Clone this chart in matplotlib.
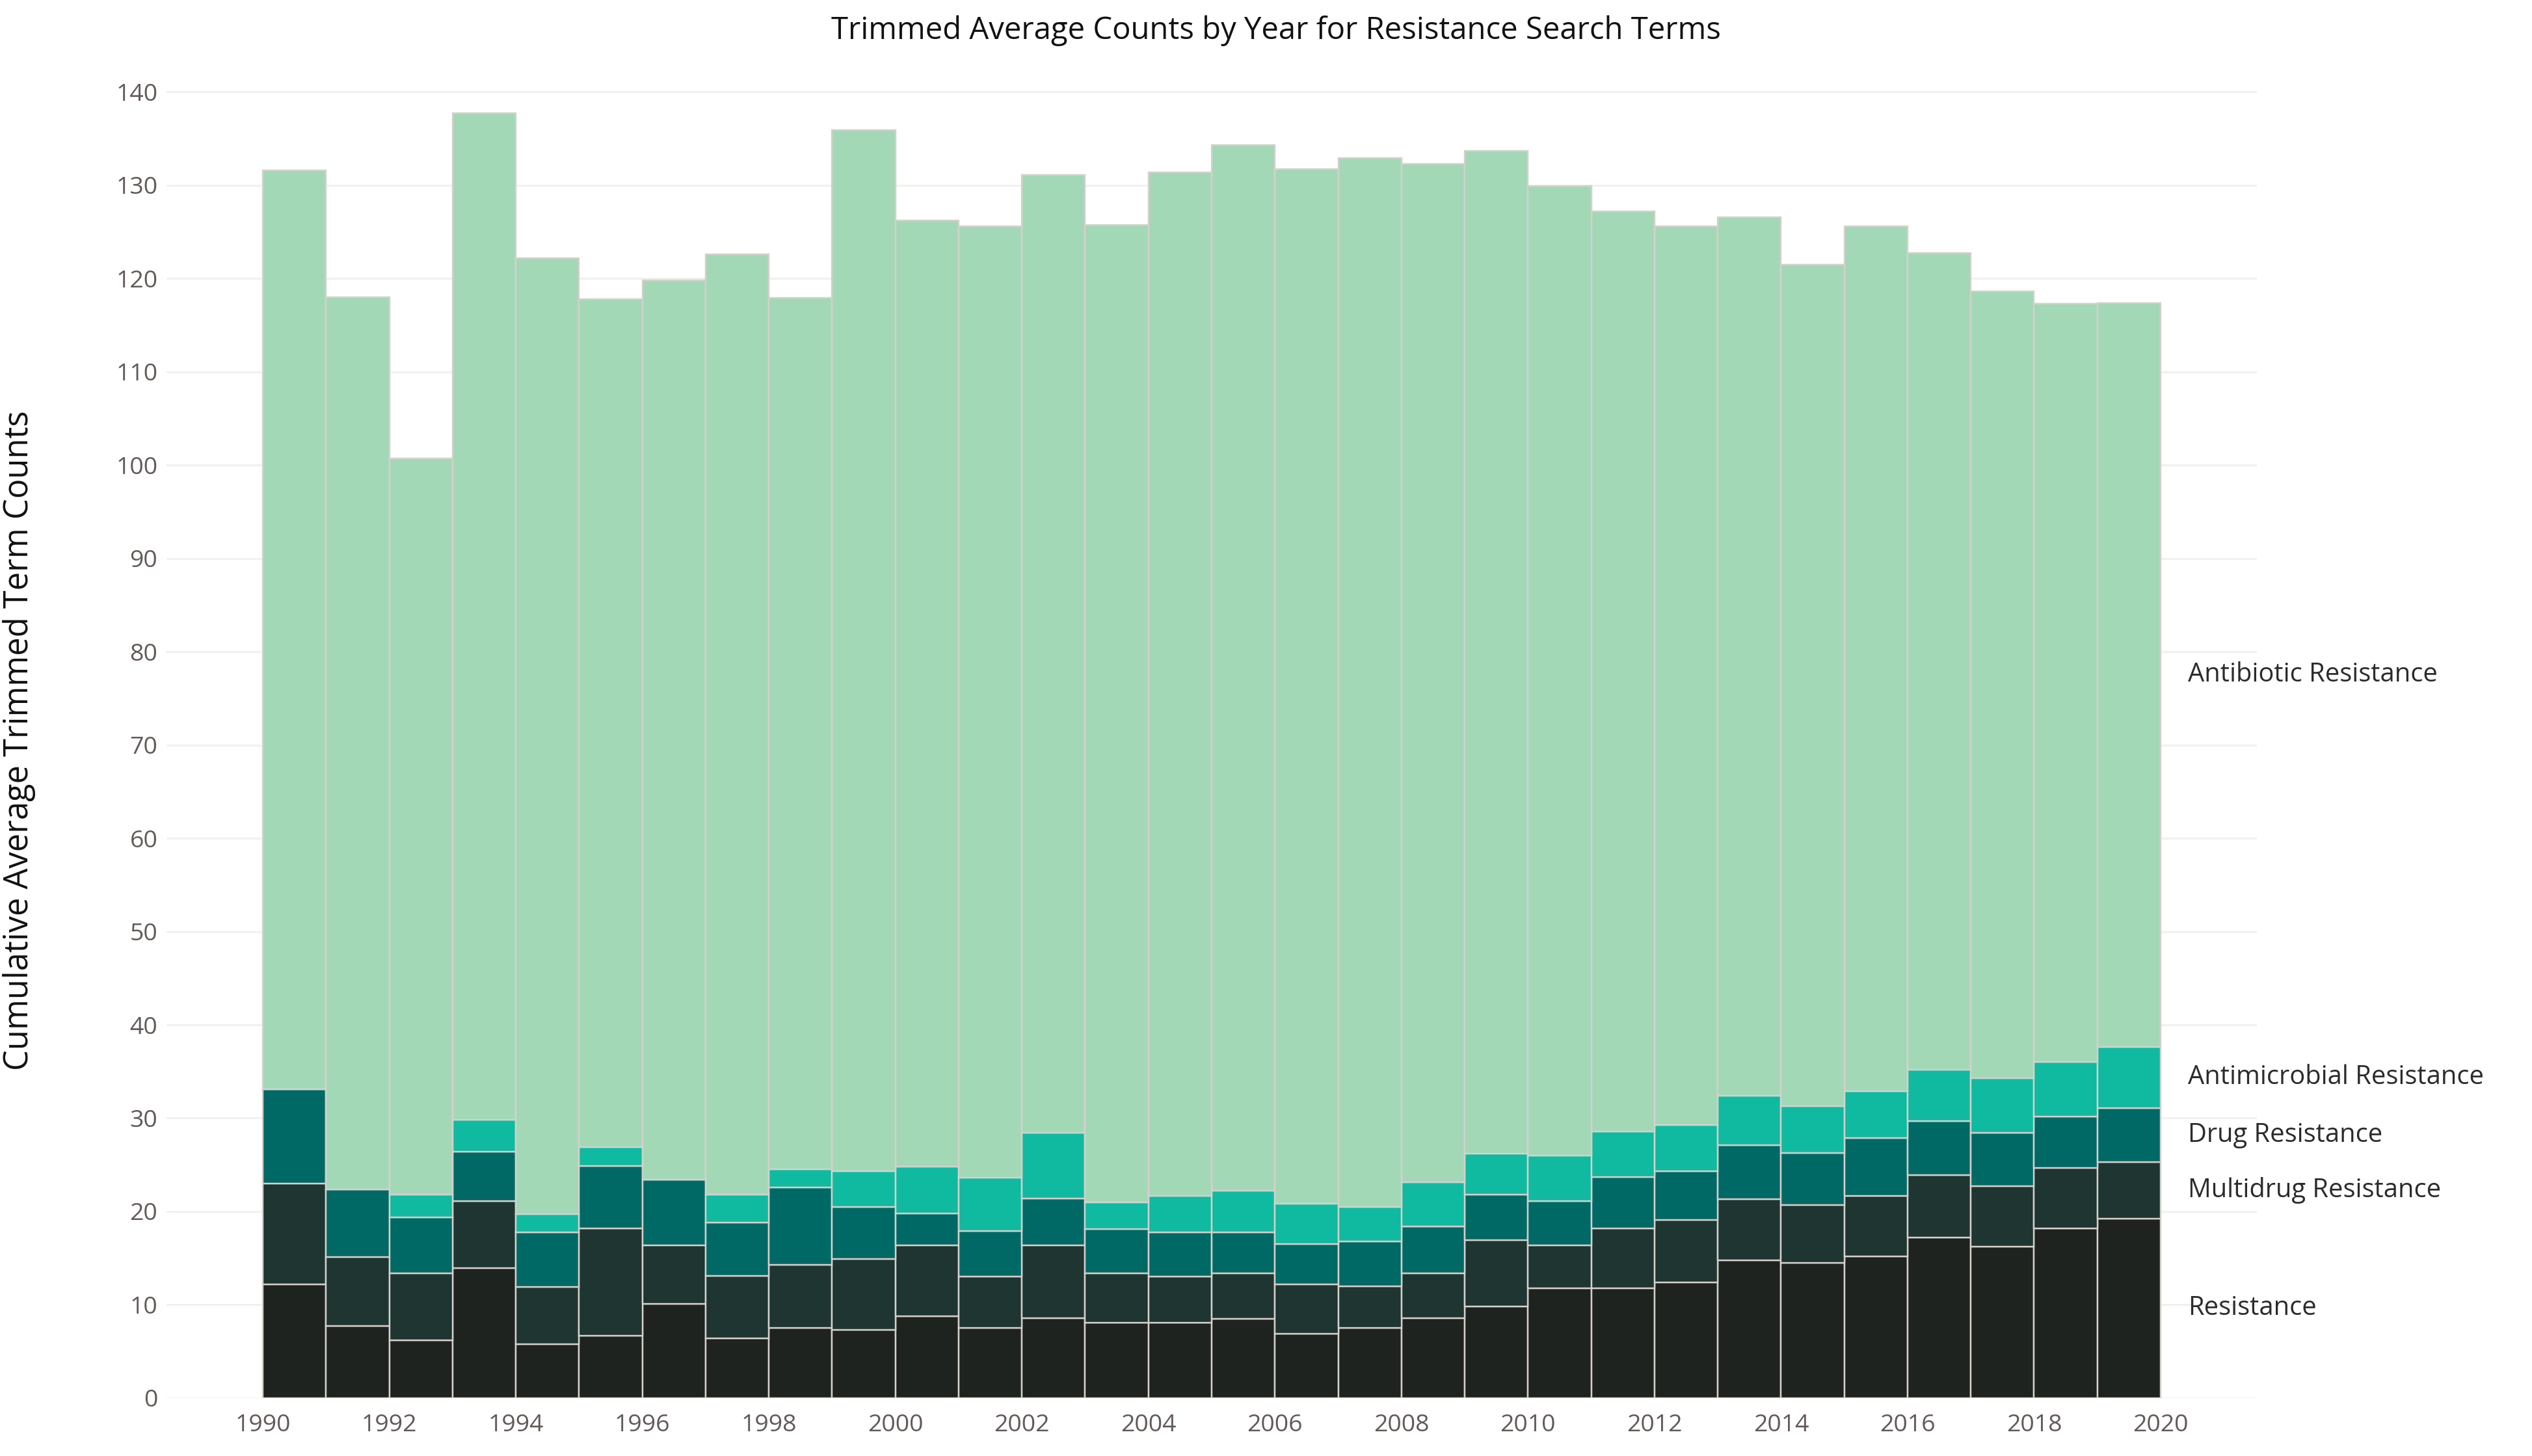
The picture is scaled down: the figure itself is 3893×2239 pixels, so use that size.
import matplotlib
matplotlib.use("Agg")
import matplotlib.pyplot as plt
import numpy as np

plt.rcParams['font.family'] = ['Open Sans', 'DejaVu Sans']

years = list(range(1990, 2020))
# per-term trimmed average counts, stacked bottom to top
resistance = [12.2, 7.7, 6.2, 13.9, 5.8, 6.7, 10.1, 6.4, 7.5, 7.3,
              8.8, 7.5, 8.6, 8.1, 8.1, 8.5, 6.9, 7.5, 8.6, 9.8,
              11.8, 11.8, 12.4, 14.8, 14.5, 15.2, 17.2, 16.2, 18.2, 19.2]
multidrug = [10.8, 7.4, 7.2, 7.2, 6.1, 11.5, 6.3, 6.7, 6.8, 7.6,
             7.6, 5.5, 7.8, 5.3, 4.9, 4.9, 5.3, 4.5, 4.8, 7.1,
             4.6, 6.4, 6.7, 6.5, 6.2, 6.5, 6.7, 6.5, 6.5, 6.1]
drug = [10.1, 7.3, 6.0, 5.3, 5.9, 6.7, 7.0, 5.7, 8.3, 5.6,
        3.4, 4.9, 5.0, 4.7, 4.8, 4.4, 4.3, 4.8, 5.0, 4.9,
        4.7, 5.5, 5.2, 5.8, 5.6, 6.2, 5.8, 5.7, 5.5, 5.8]
antimicrobial = [0.0, 0.0, 2.4, 3.4, 1.9, 2.0, 0.0, 3.0, 1.9, 3.8,
                 5.0, 5.7, 7.0, 2.9, 3.9, 4.4, 4.3, 3.7, 4.7, 4.4,
                 4.9, 4.9, 5.0, 5.3, 5.0, 5.0, 5.5, 5.9, 5.8, 6.5]
antibiotic = [98.5, 95.6, 78.9, 107.9, 102.5, 90.9, 96.4, 100.8, 93.4, 111.6,
              101.4, 102.0, 102.7, 104.7, 109.7, 112.1, 110.9, 112.4, 109.2, 107.5,
              103.9, 98.6, 96.3, 94.2, 90.2, 92.7, 87.55, 84.3, 81.3, 79.8]

series = [resistance, multidrug, drug, antimicrobial, antibiotic]
names = ["Resistance", "Multidrug Resistance", "Drug Resistance",
         "Antimicrobial Resistance", "Antibiotic Resistance"]
colors = ["#1f2320", "#1e3532", "#006966", "#0fbaa0", "#a3d8b7"]

fig = plt.figure(figsize=(3893 / 250, 2239 / 250), dpi=250)
ax = fig.add_axes([0.0658, 0.0398, 0.8255, 0.9035])

bottom = np.zeros(len(years))
for vals, name, col in zip(series, names, colors):
    ax.bar(years, vals, width=1, align='edge', bottom=bottom, color=col,
           edgecolor='#d6d0cb', linewidth=0.7, label=name, zorder=2)
    # label at middle of last bar's segment
    mid = bottom[-1] + vals[-1] / 2
    ax.text(2020.43, mid, name, fontsize=11.5, color='#2b2b2b', va='center',
            ha='left', clip_on=False)
    bottom = bottom + np.array(vals)

ax.set_xlim(1988.48, 2021.52)
ax.set_ylim(0, 141)
ax.set_yticks(range(0, 141, 10))
ax.set_xticks(range(1990, 2021, 2))
ax.tick_params(axis='both', length=0, labelsize=10.8, labelcolor='#625a57')
ax.tick_params(axis='x', pad=7)
ax.tick_params(axis='y', pad=4)
ax.grid(axis='y', color='#f2f0ef', linewidth=0.8, zorder=0)
ax.set_axisbelow(True)
for s in ax.spines.values():
    s.set_visible(False)

ax.set_ylabel("Cumulative Average Trimmed Term Counts", fontsize=14.6, color='#111111')
ax.yaxis.set_label_coords(-0.0625, 0.5)

fig.text(0.504, 0.979, "Trimmed Average Counts by Year for Resistance Search Terms",
         fontsize=13.6, color='#111111', ha='center', va='center')

fig.savefig("out.png", dpi=250, facecolor='white')
